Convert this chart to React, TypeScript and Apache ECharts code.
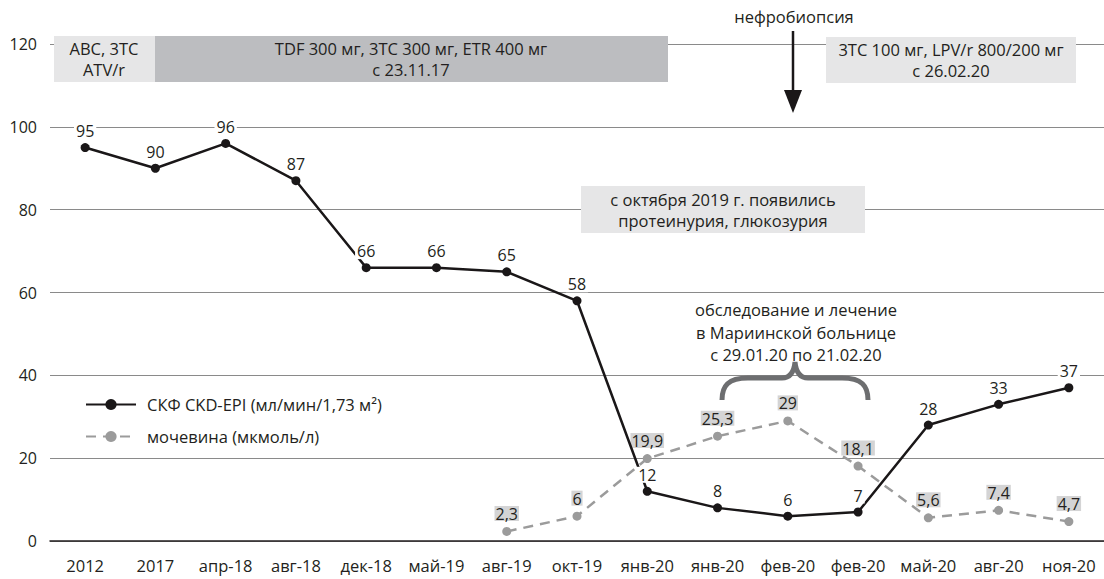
import React, { useEffect, useRef } from "react";
import * as echarts from "echarts";

const categories = [
  "2012", "2017", "апр-18", "авг-18", "дек-18", "май-19", "авг-19", "окт-19",
  "янв-20", "янв-20", "фев-20", "фев-20", "май-20", "авг-20", "ноя-20",
];
const gfrValues = [95, 90, 96, 87, 66, 66, 65, 58, 12, 8, 6, 7, 28, 33, 37];
const ureaValues = [null, null, null, null, null, null, 2.3, 6, 19.9, 25.3, 29, 18.1, 5.6, 7.4, 4.7];
const gfrName = "СКФ CKD-EPI (мл/мин/1,73 м²)";
const ureaName = "мочевина (мкмоль/л)";
const yMin = 0;
const yMax = 120;
const yInterval = 20;

const FONT = "'Open Sans', 'Noto Sans', sans-serif";
const TXT = "#231f20";

const braceD =
  "M0 38 C0 24 6 16 26 16 L60 16 C68 16 72 10 73 0 C74 10 78 16 86 16 L120 16 C140 16 146 24 146 38";

export default function App() {
  const ref = useRef<HTMLDivElement>(null);
  useEffect(() => {
    if (!ref.current) return;
    try {
      echarts.graphic.registerShape("brace", echarts.graphic.extendPath(braceD, {}) as any);
    } catch (e) {}
    const chart = echarts.init(ref.current, null, { renderer: "svg" });
    const textStyle = (text: string, x: number, y: number, size = 16.5, lh = 21) => ({
      type: "text",
      z: 20,
      style: {
        text,
        x,
        y,
        align: "center",
        verticalAlign: "middle",
        fontSize: size,
        fontFamily: FONT,
        fill: TXT,
        lineHeight: lh,
      },
    });
    chart.setOption({
      animation: false,
      textStyle: { fontFamily: FONT },
      grid: { left: 50, right: -8, top: 44, bottom: 38, containLabel: false },
      legend: {
        orient: "vertical",
        left: 85,
        top: 396,
        padding: 0,
        itemWidth: 50,
        itemHeight: 14,
        itemGap: 15,
        textStyle: { fontSize: 16.5, color: TXT, fontFamily: FONT, padding: [0, 0, 0, 6] },
        data: [gfrName, ureaName],
      },
      xAxis: [
        {
          type: "category",
          data: categories,
          boundaryGap: true,
          axisLine: { lineStyle: { color: "#231f20", width: 1.5 } },
          axisTick: { alignWithLabel: true, length: 6, lineStyle: { color: "#231f20", width: 1.2 } },
          axisLabel: { color: TXT, fontSize: 16.5, fontFamily: FONT, margin: 16, interval: 0 },
        },
        {
          type: "category",
          data: categories,
          position: "bottom",
          boundaryGap: true,
          axisLine: { show: false },
          axisTick: { alignWithLabel: true, inside: true, length: 5, lineStyle: { color: "#231f20", width: 1.2 } },
          axisLabel: { show: false },
        },
      ],
      yAxis: {
        type: "value",
        min: yMin,
        max: yMax,
        interval: yInterval,
        axisLine: { show: false },
        axisTick: { show: false },
        axisLabel: { color: TXT, fontSize: 16, fontFamily: FONT, margin: 13 },
        splitLine: { lineStyle: { color: "#8a8a8a", width: 1 } },
      },
      series: [
        {
          name: gfrName,
          type: "line",
          data: gfrValues,
          z: 4,
          symbol: "circle",
          symbolSize: 9,
          itemStyle: { color: "#1a1718" },
          lineStyle: { color: "#1a1718", width: 2.5 },
          label: {
            show: true,
            position: "top",
            distance: 4,
            fontSize: 16,
            color: TXT,
            fontFamily: FONT,
            backgroundColor: "#ffffff",
            padding: [0, 2, 0, 2],
          },
        },
        {
          name: ureaName,
          type: "line",
          data: ureaValues,
          z: 3,
          symbol: "circle",
          symbolSize: 9,
          itemStyle: { color: "#9b9b9b" },
          lineStyle: { color: "#9b9b9b", width: 2.5, type: [10, 7] },
          label: {
            show: true,
            position: "top",
            distance: 6,
            fontSize: 16,
            color: TXT,
            fontFamily: FONT,
            backgroundColor: "#d4d4d5",
            padding: [0, 1, -1, 1],
            formatter: (p: any) => String(p.value).replace(".", ","),
          },
        },
      ],
      graphic: [
        { type: "rect", z: 10, shape: { x: 54, y: 36, width: 101, height: 46 }, style: { fill: "#e6e6e7" } },
        { type: "rect", z: 10, shape: { x: 155, y: 36, width: 513, height: 46 }, style: { fill: "#bcbdc0" } },
        { type: "rect", z: 10, shape: { x: 826, y: 37, width: 250, height: 46 }, style: { fill: "#e6e6e7" } },
        { type: "rect", z: 10, shape: { x: 581, y: 186, width: 284, height: 47 }, style: { fill: "#e6e6e7" } },
        textStyle("ABC, 3TC\nATV/r", 104, 59),
        textStyle("TDF 300 мг, 3TC 300 мг, ETR 400 мг\nс 23.11.17", 411, 59),
        textStyle("3TC 100 мг, LPV/r 800/200 мг\nс 26.02.20", 951, 60),
        textStyle("с октября 2019 г. появились\nпротеинурия, глюкозурия", 723, 210),
        textStyle("нефробиопсия", 794, 16),
        textStyle("обследование и лечение\nв Мариинской больнице\nс 29.01.20 по 21.02.20", 796, 332, 16.5, 22.5),
        {
          type: "line",
          z: 20,
          shape: { x1: 793, y1: 31, x2: 793, y2: 96 },
          style: { stroke: "#1a1718", lineWidth: 2.5 },
        },
        {
          type: "polygon",
          z: 20,
          shape: { points: [[784, 90], [802, 90], [793, 113]] },
          style: { fill: "#1a1718" },
        },
        {
          type: "brace",
          z: 20,
          x: 722,
          y: 362,
          style: { stroke: "#6d6e70", lineWidth: 5, fill: "none" },
        },
      ],
    });
    return () => chart.dispose();
  }, []);
  return (
    <div
      ref={ref}
      style={{ position: "fixed", left: 0, top: 0, width: 1104, height: 579, background: "#fff" }}
    />
  );
}
